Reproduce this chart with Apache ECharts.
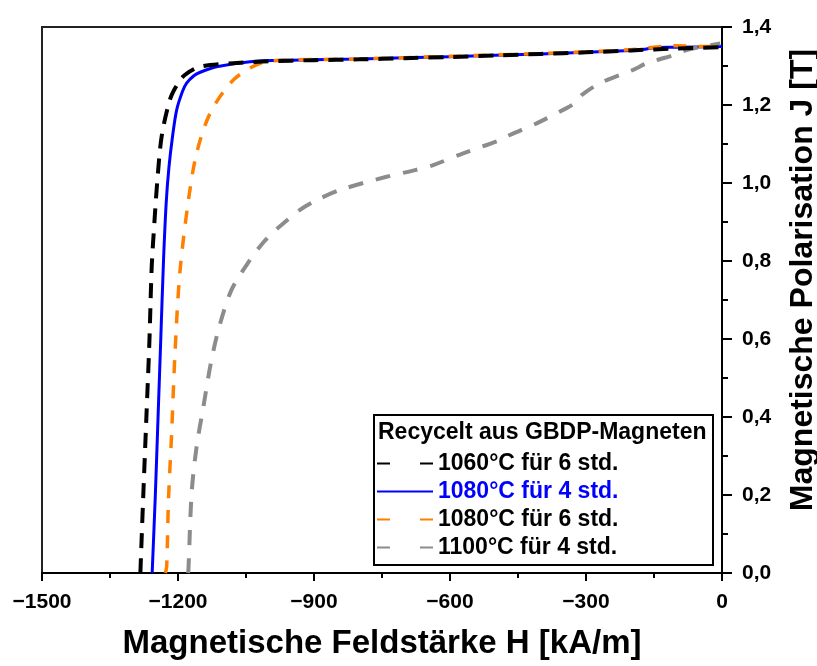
<!DOCTYPE html>
<html>
<head>
<meta charset="utf-8">
<script src="https://cdn.jsdelivr.net/npm/echarts@6/dist/echarts.min.js"></script>
<style>
  html, body { margin: 0; padding: 0; background: #fff; }
  #chart1 { width: 817px; height: 666px; }
</style>
</head>
<body>
<div id="chart1"></div>
<script>
// H in kA/m, J in T
var names = ["1060°C für 6 std.", "1080°C für 4 std.", "1080°C für 6 std.", "1100°C für 4 std."]

var h1060_6 = [-1283, -1277, -1270, -1263, -1258, -1252, -1246, -1236, -1218, -1203, -1185, -1151, -1078, -1000, -900, -800, -700, -600, -500, -400, -300, -200, -100, 0]
var j1060_6 = [0, 0.187, 0.392, 0.597, 0.785, 0.9, 1.0, 1.12, 1.213, 1.25, 1.277, 1.298, 1.307, 1.312, 1.315, 1.317, 1.32, 1.323, 1.327, 1.331, 1.335, 1.34, 1.345, 1.348]

var h1080_4 = [-1257, -1250, -1244, -1238, -1232, -1226, -1220, -1212, -1203, -1190, -1181, -1165, -1151, -1115, -1041, -950, -800, -600, -400, -200, -170, -150, -100, 0]
var j1080_4 = [0, 0.2, 0.4, 0.6, 0.8, 0.95, 1.04, 1.12, 1.187, 1.235, 1.256, 1.275, 1.284, 1.298, 1.311, 1.315, 1.318, 1.324, 1.331, 1.34, 1.343, 1.347, 1.348, 1.35]

var h1080_6 = [-1228, -1225, -1221, -1214, -1207, -1196, -1177, -1159, -1129, -1078, -1019, -960, -800, -600, -400, -200, -100, -50, 0]
var j1080_6 = [0, 0.016, 0.187, 0.359, 0.555, 0.769, 0.956, 1.076, 1.179, 1.264, 1.307, 1.315, 1.318, 1.325, 1.332, 1.342, 1.352, 1.35, 1.352]

var h1100_4 = [-1178, -1177, -1170, -1159, -1144, -1129, -1111, -1082, -1041, -1010, -985, -931, -894, -843, -740, -677, -637, -571, -490, -468, -409, -343, -321, -309, -269, -196, -166, -107, -78, -4]
var j1100_4 = [0, 0.008, 0.204, 0.324, 0.426, 0.529, 0.623, 0.726, 0.803, 0.85, 0.879, 0.931, 0.956, 0.982, 1.016, 1.033, 1.046, 1.076, 1.11, 1.123, 1.153, 1.192, 1.208, 1.226, 1.256, 1.29, 1.307, 1.328, 1.341, 1.358]

function pairs(h, j) {
    return h.map((x, i) => [x, j[i]])
}

var font = "'Liberation Sans', Arial, sans-serif"
var chart1 = echarts.init(document.querySelector("#chart1"))

var option = {
    animation: false,
    textStyle: { fontFamily: font },
    grid: {
        left: 42,
        right: 95,
        top: 27,
        bottom: 93,
        outerBoundsMode: "none",
        containLabel: false,
        show: true,
        borderColor: "#222",
        borderWidth: 2,
    },
    xAxis: {
        type: "value",
        min: -1500,
        max: 0,
        interval: 300,
        name: "Magnetische Feldstärke H [kA/m]",
        nameLocation: "middle",
        nameGap: 54,
        nameTextStyle: { fontSize: 33, fontWeight: "bold", color: "#000", fontFamily: font },
        axisLine: { lineStyle: { color: "#000", width: 2 } },
        axisTick: { length: 8, lineStyle: { color: "#000", width: 2 } },
        minorTick: { show: true, splitNumber: 2, length: 5, lineStyle: { color: "#000", width: 2 } },
        splitLine: { show: false },
        axisLabel: {
            margin: 19,
            fontSize: 21,
            fontWeight: "bold",
            color: "#000",
            formatter: v => v < 0 ? "\u2212" + Math.abs(v) : String(v),
        },
    },
    yAxis: {
        type: "value",
        position: "right",
        min: 0,
        max: 1.4,
        interval: 0.2,
        name: "Magnetische Polarisation J [T]",
        nameLocation: "middle",
        nameRotate: 90,
        nameGap: 65,
        nameTextStyle: { fontSize: 32, fontWeight: "bold", color: "#000", fontFamily: font, padding: [0, 0, 0, 40] },
        axisLine: { show: true, lineStyle: { color: "#000", width: 2 } },
        axisTick: { show: true, length: 10, lineStyle: { color: "#000", width: 2 } },
        minorTick: { show: true, splitNumber: 2, length: 6, lineStyle: { color: "#000", width: 2 } },
        splitLine: { show: false },
        axisLabel: {
            margin: 20,
            fontSize: 21,
            fontWeight: "bold",
            color: "#000",
            formatter: v => v.toFixed(1).replace(".", ","),
        },
    },
    legend: {
        orient: "vertical",
        left: 374,
        top: 415,
        padding: [37, 4, 7, 2],
        itemWidth: 56,
        itemHeight: 18,
        itemGap: 5,
        itemStyle: { opacity: 0 },
        textStyle: { fontSize: 23, fontWeight: "bold", color: "#000", lineHeight: 23 },
        data: [
            { name: names[0], lineStyle: { type: [13, 30] } },
            { name: names[1], textStyle: { color: "#0000ff" } },
            { name: names[2], lineStyle: { type: [13, 30] } },
            { name: names[3], lineStyle: { type: [13, 30] } },
        ],
    },
    graphic: [
        {
            type: "rect",
            z: 3,
            shape: { x: 374, y: 415, width: 339, height: 150 },
            style: { fill: "#fff", stroke: "#000", lineWidth: 2 },
        },
        {
            type: "text",
            z: 5,
            x: 378,
            y: 433,
            style: {
                text: "Recycelt aus GBDP-Magneten",
                font: "bold 23px " + font,
                fill: "#000",
                verticalAlign: "middle",
            },
        },
    ],
    series: [
        {
            name: names[1],
            type: "line",
            symbol: "none",
            smooth: 0.3,
            data: pairs(h1080_4, j1080_4),
            color: "#0000ff",
            lineStyle: { color: "#0000ff", width: 3 },
        },
        {
            name: names[2],
            type: "line",
            symbol: "none",
            smooth: 0.3,
            data: pairs(h1080_6, j1080_6),
            color: "#ff8000",
            lineStyle: { color: "#ff8000", width: 3.5, type: [13, 12] },
        },
        {
            name: names[3],
            type: "line",
            symbol: "none",
            smooth: 0.3,
            data: pairs(h1100_4, j1100_4),
            color: "#8c8c8c",
            lineStyle: { color: "#8c8c8c", width: 4, type: [15, 13] },
        },
        {
            name: names[0],
            type: "line",
            symbol: "none",
            smooth: 0.3,
            data: pairs(h1060_6, j1060_6),
            color: "#000",
            lineStyle: { color: "#000", width: 4, type: [15, 10] },
        },
    ],
}

chart1.setOption(option)
</script>
</body>
</html>
